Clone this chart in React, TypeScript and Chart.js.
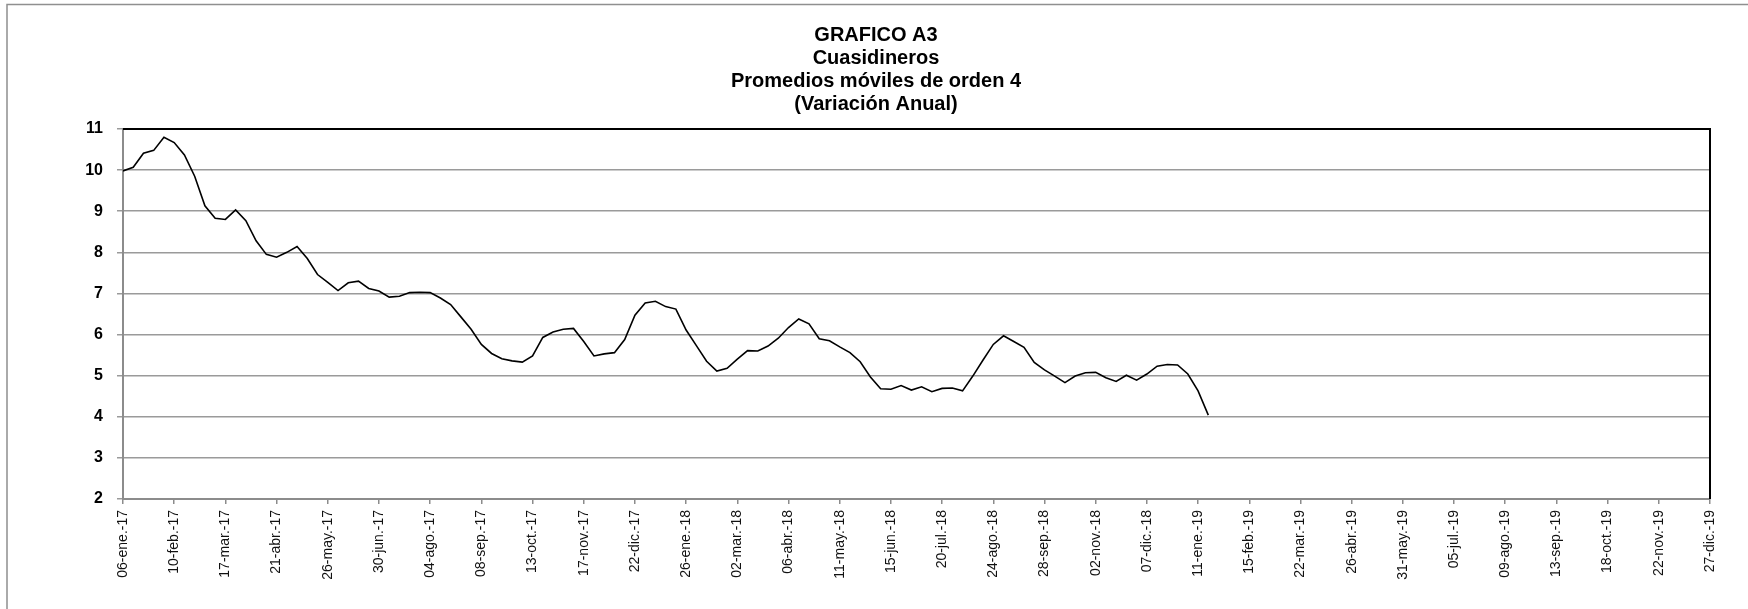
import React, { useEffect, useRef } from "react";
import { Chart, registerables } from "chart.js";

Chart.register(...registerables);

const titleLines = [
  "GRAFICO A3",
  "Cuasidineros",
  "Promedios móviles de orden 4",
  "(Variación Anual)",
];

// Tick labels every 5 weeks (weekly series from 06-ene.-17 to 27-dic.-19)
const tickLabels = [
  "06-ene.-17", "10-feb.-17", "17-mar.-17", "21-abr.-17", "26-may.-17", "30-jun.-17",
  "04-ago.-17", "08-sep.-17", "13-oct.-17", "17-nov.-17", "22-dic.-17", "26-ene.-18",
  "02-mar.-18", "06-abr.-18", "11-may.-18", "15-jun.-18", "20-jul.-18", "24-ago.-18",
  "28-sep.-18", "02-nov.-18", "07-dic.-18", "11-ene.-19", "15-feb.-19", "22-mar.-19",
  "26-abr.-19", "31-may.-19", "05-jul.-19", "09-ago.-19", "13-sep.-19", "18-oct.-19",
  "22-nov.-19", "27-dic.-19",
];

const weeksPerTick = 5;

// Weekly values (Variación Anual, %), starting 06-ene.-17
const cuasidineros = [
  9.98, 10.07, 10.41, 10.48, 10.8, 10.67, 10.37, 9.85, 9.13, 8.83,
  8.8, 9.03, 8.77, 8.28, 7.95, 7.88, 8.0, 8.14, 7.85, 7.46,
  7.27, 7.07, 7.26, 7.3, 7.12, 7.06, 6.91, 6.93, 7.02, 7.03,
  7.02, 6.89, 6.73, 6.43, 6.13, 5.76, 5.54, 5.41, 5.36, 5.33,
  5.48, 5.93, 6.06, 6.13, 6.15, 5.83, 5.48, 5.53, 5.56, 5.88,
  6.47, 6.77, 6.81, 6.68, 6.62, 6.11, 5.73, 5.35, 5.11, 5.18,
  5.4, 5.61, 5.6, 5.72, 5.91, 6.17, 6.38, 6.26, 5.9, 5.85,
  5.7, 5.56, 5.34, 4.97, 4.68, 4.67, 4.76, 4.65, 4.73, 4.61,
  4.69, 4.7, 4.63, 4.99, 5.38, 5.76, 5.97, 5.83, 5.69, 5.32,
  5.14, 4.99, 4.83, 4.99, 5.07, 5.08, 4.95, 4.86, 5.01, 4.89,
  5.04, 5.23, 5.27, 5.26, 5.04, 4.63, 4.04,
];

const yMin = 2;
const yMax = 11;

const FONT = "Arial, 'Liberation Sans', Helvetica, sans-serif";

const framePlugin = {
  id: "frame",
  beforeDraw(chart: any) {
    const ctx = chart.ctx;
    ctx.save();
    ctx.fillStyle = "#ffffff";
    ctx.fillRect(0, 0, chart.width, chart.height);
    ctx.strokeStyle = "#8f8f8f";
    ctx.lineWidth = 1.5;
    ctx.strokeRect(7, 4.5, 3000, 3000);
    ctx.restore();
  },
  afterDraw(chart: any) {
    const { ctx, chartArea } = chart;
    ctx.save();
    ctx.strokeStyle = "#000000";
    ctx.lineWidth = 2;
    ctx.beginPath();
    ctx.moveTo(chartArea.left, chartArea.top);
    ctx.lineTo(chartArea.right, chartArea.top);
    ctx.lineTo(chartArea.right, chartArea.bottom);
    ctx.stroke();
    ctx.restore();
  },
};

export default function App() {
  const canvasRef = useRef<HTMLCanvasElement | null>(null);

  useEffect(() => {
    document.body.style.margin = "0";
    const canvas = canvasRef.current;
    if (!canvas) return;
    const chart = new Chart(canvas, {
      type: "line",
      data: {
        datasets: [
          {
            label: "Cuasidineros",
            data: cuasidineros.map((v, i) => ({ x: i, y: v })),
            borderColor: "#000000",
            borderWidth: 1.6,
            pointRadius: 0,
            tension: 0,
            fill: false,
          },
        ],
      },
      options: {
        responsive: false,
        animation: false,
        devicePixelRatio: 1,
        layout: { padding: { left: 42, right: 38, top: 0, bottom: 0 } },
        plugins: {
          legend: { display: false },
          tooltip: { enabled: false },
          title: {
            display: true,
            text: titleLines,
            color: "#000000",
            font: { family: FONT, size: 20, weight: "bold", lineHeight: 1.15 },
            padding: { top: 23.5, bottom: 13.5 },
          },
        },
        scales: {
          x: {
            type: "linear",
            min: 0,
            max: (tickLabels.length - 1) * weeksPerTick,
            afterFit(scale: any) {
              scale.height = 110;
            },
            grid: {
              drawOnChartArea: false,
              drawTicks: true,
              tickLength: 5,
              color: "#8c8c8c",
              lineWidth: 1.5,
            },
            border: { display: true, color: "#8c8c8c", width: 2 },
            ticks: {
              stepSize: weeksPerTick,
              autoSkip: false,
              minRotation: 90,
              maxRotation: 90,
              padding: 6,
              color: "#111111",
              font: { family: FONT, size: 14 },
              callback: (value: any) => {
                const idx = Math.round(Number(value) / weeksPerTick);
                return tickLabels[idx] ?? "";
              },
            },
          },
          y: {
            min: yMin,
            max: yMax,
            afterFit(scale: any) {
              scale.width = 81;
            },
            grid: {
              color: "#9a9a9a",
              lineWidth: 1.5,
              tickLength: 6,
              drawTicks: true,
            },
            border: { display: true, color: "#8c8c8c", width: 2 },
            ticks: {
              stepSize: 1,
              padding: 14,
              color: "#000000",
              font: { family: FONT, size: 16, weight: "bold" },
            },
          },
        },
      },
      plugins: [framePlugin],
    });
    return () => chart.destroy();
  }, []);

  return (
    <div style={{ width: 1748, height: 609, position: "relative" }}>
      <canvas ref={canvasRef} width={1748} height={609} style={{ display: "block" }} />
    </div>
  );
}
